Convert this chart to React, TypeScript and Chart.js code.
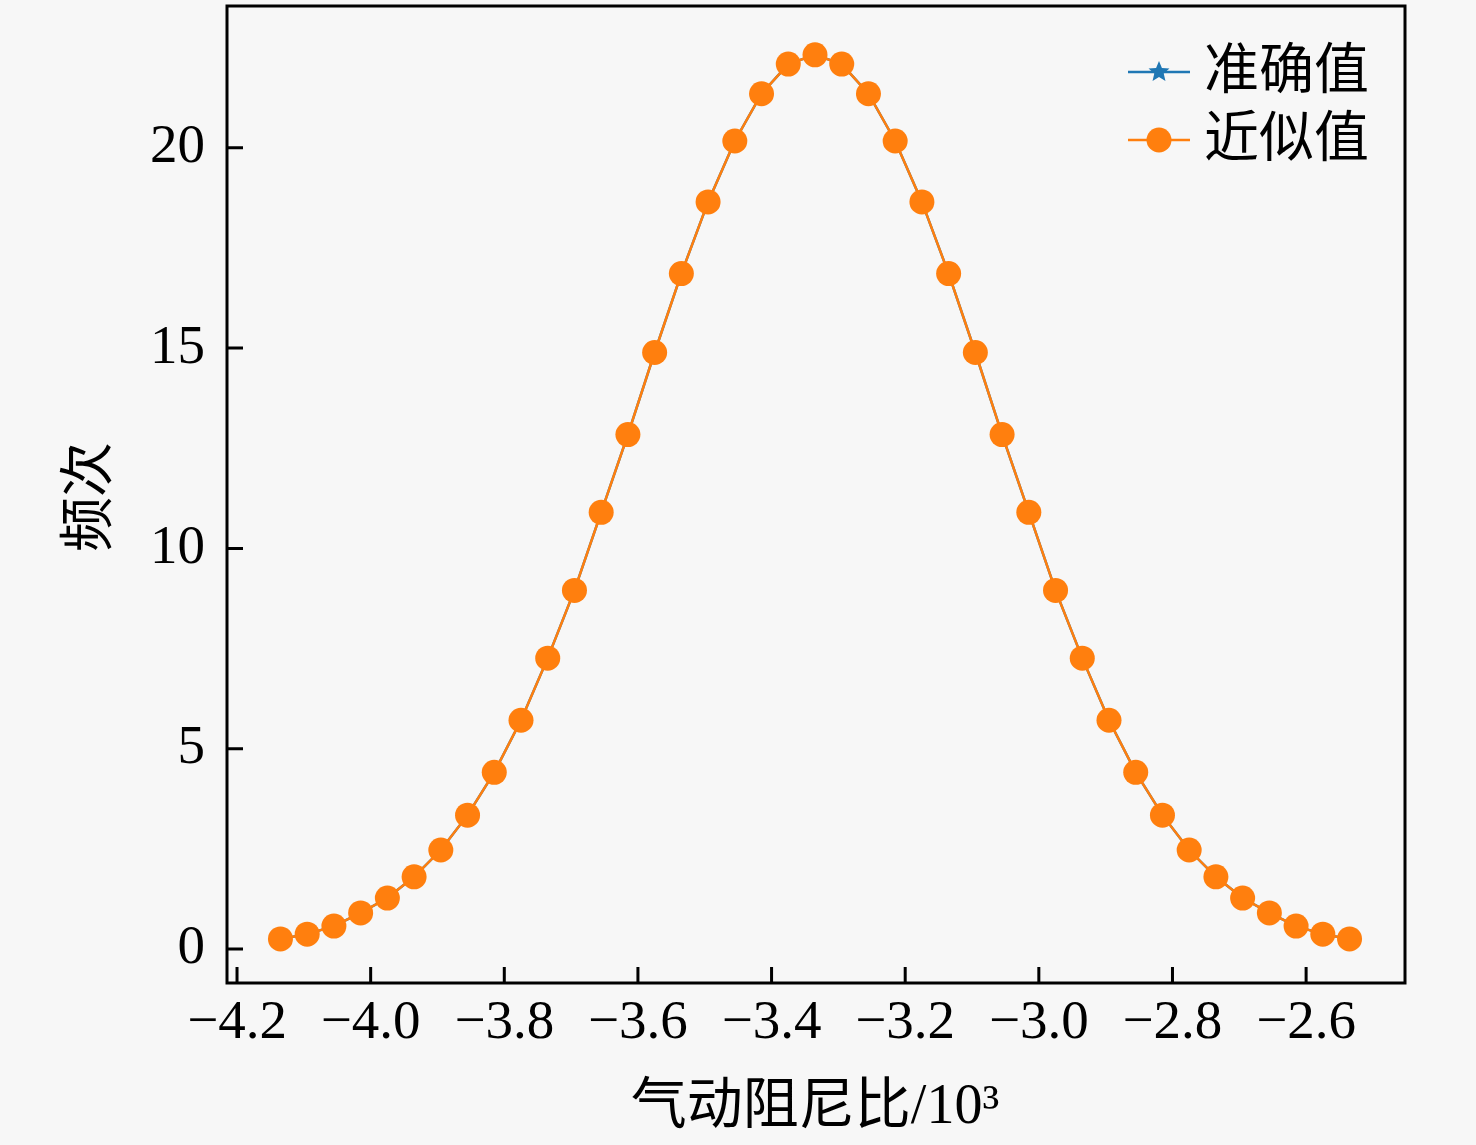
import { useEffect, useRef } from 'react'
import { Chart, registerables } from 'chart.js'

Chart.register(...registerables);

// 气动阻尼比 (x, ×10^3) and 频次 values
const dampingRatio = [
  -4.135, -4.095, -4.055, -4.015, -3.975, -3.935, -3.895, -3.855, -3.815, -3.775,
  -3.735, -3.695, -3.655, -3.615, -3.575, -3.535, -3.495, -3.455, -3.415, -3.375,
  -3.335, -3.295, -3.255, -3.215, -3.175, -3.135, -3.095, -3.055, -3.015, -2.975,
  -2.935, -2.895, -2.855, -2.815, -2.775, -2.735, -2.695, -2.655, -2.615, -2.575,
  -2.535,
];
const exactFreq = [
  0.25, 0.37, 0.57, 0.90, 1.27, 1.80, 2.47, 3.34, 4.41, 5.71,
  7.26, 8.95, 10.90, 12.84, 14.89, 16.86, 18.65, 20.17, 21.35, 22.09,
  22.32, 22.09, 21.35, 20.17, 18.65, 16.86, 14.89, 12.84, 10.90, 8.95,
  7.26, 5.71, 4.41, 3.34, 2.47, 1.80, 1.27, 0.90, 0.57, 0.37,
  0.25,
];
const approxFreq = [
  0.25, 0.37, 0.57, 0.90, 1.27, 1.80, 2.47, 3.34, 4.41, 5.71,
  7.26, 8.95, 10.90, 12.84, 14.89, 16.86, 18.65, 20.17, 21.35, 22.09,
  22.32, 22.09, 21.35, 20.17, 18.65, 16.86, 14.89, 12.84, 10.90, 8.95,
  7.26, 5.71, 4.41, 3.34, 2.47, 1.80, 1.27, 0.90, 0.57, 0.37,
  0.25,
];
const xTicks = [-4.2, -4.0, -3.8, -3.6, -3.4, -3.2, -3.0, -2.8, -2.6];
const yTicks = [0, 5, 10, 15, 20];
const seriesNames = ['准确值', '近似值'];

const BLUE = '#1f77b4';
const ORANGE = '#ff7f0e';
const FONT = '"Liberation Serif", "Times New Roman", "Noto Sans CJK SC", serif';

function drawStar(ctx: CanvasRenderingContext2D, cx: number, cy: number, r: number) {
  ctx.beginPath();
  for (let i = 0; i < 10; i++) {
    const rad = i % 2 === 0 ? r : r * 0.45;
    const a = -Math.PI / 2 + (i * Math.PI) / 5;
    const px = cx + rad * Math.cos(a);
    const py = cy + rad * Math.sin(a);
    if (i === 0) ctx.moveTo(px, py); else ctx.lineTo(px, py);
  }
  ctx.closePath();
  ctx.fill();
}

// frame, inward ticks, axis titles and the legend
const decorPlugin = {
  id: 'decor',
  beforeDraw(chart: Chart) {
    const { ctx, width, height } = chart;
    ctx.save();
    ctx.fillStyle = '#f7f7f7';
    ctx.fillRect(0, 0, width, height);
    ctx.restore();
  },
  afterDraw(chart: Chart) {
    const { ctx, chartArea: a } = chart;
    const xs = chart.scales.x;
    const ys = chart.scales.y;
    ctx.save();
    ctx.strokeStyle = '#000';
    ctx.lineWidth = 3;
    ctx.strokeRect(a.left, a.top, a.right - a.left, a.bottom - a.top);

    ctx.beginPath();
    xTicks.forEach(t => {
      const px = xs.getPixelForValue(t);
      ctx.moveTo(px, a.bottom);
      ctx.lineTo(px, a.bottom - 16);
    });
    yTicks.forEach(t => {
      const py = ys.getPixelForValue(t);
      ctx.moveTo(a.left, py);
      ctx.lineTo(a.left + 16, py);
    });
    ctx.stroke();

    // axis titles
    ctx.fillStyle = '#000';
    ctx.font = `56px ${FONT}`;
    ctx.textAlign = 'center';
    ctx.textBaseline = 'middle';
    ctx.fillText('气动阻尼比/10³', 815, 1108);
    ctx.save();
    ctx.translate(92, 497);
    ctx.rotate(-Math.PI / 2);
    ctx.font = `55px ${FONT}`;
    ctx.fillText('频次', 0, 0);
    ctx.restore();

    // legend
    const rows = [
      { y: 72, color: BLUE, star: true },
      { y: 140, color: ORANGE, star: false },
    ];
    rows.forEach((r, i) => {
      ctx.strokeStyle = r.color;
      ctx.lineWidth = 2.5;
      ctx.beginPath();
      ctx.moveTo(1128, r.y);
      ctx.lineTo(1190, r.y);
      ctx.stroke();
      ctx.fillStyle = r.color;
      if (r.star) {
        drawStar(ctx, 1159, r.y, 11);
      } else {
        ctx.beginPath();
        ctx.arc(1159, r.y, 12.5, 0, Math.PI * 2);
        ctx.fill();
      }
      ctx.fillStyle = '#000';
      ctx.font = `55px ${FONT}`;
      ctx.textAlign = 'left';
      ctx.textBaseline = 'middle';
      ctx.fillText(seriesNames[i], 1204, r.y + 2);
    });
    ctx.restore();
  },
};

const fmt = (v: number, digits: number) =>
  (v < 0 ? '\u2212' : '') + Math.abs(v).toFixed(digits);

export default function App() {
  const canvasRef = useRef<HTMLCanvasElement>(null);
  const chartRef = useRef<Chart | null>(null);

  useEffect(() => {
    document.body.style.margin = '0';
    document.body.style.background = '#f7f7f7';
    if (!canvasRef.current) return;
    chartRef.current?.destroy();
    chartRef.current = new Chart(canvasRef.current, {
      type: 'line',
      data: {
        datasets: [
          {
            label: seriesNames[0],
            data: dampingRatio.map((x, i) => ({ x, y: exactFreq[i] })),
            borderColor: BLUE,
            backgroundColor: BLUE,
            borderWidth: 2.5,
            pointStyle: 'star',
            pointRadius: 9,
            pointBorderWidth: 3,
            pointBorderColor: BLUE,
            order: 2,
          },
          {
            label: seriesNames[1],
            data: dampingRatio.map((x, i) => ({ x, y: approxFreq[i] })),
            borderColor: ORANGE,
            backgroundColor: ORANGE,
            borderWidth: 2.5,
            pointStyle: 'circle',
            pointRadius: 12.5,
            pointBorderWidth: 0,
            order: 1,
          },
        ],
      },
      options: {
        responsive: false,
        animation: false,
        devicePixelRatio: 1,
        layout: { autoPadding: false, padding: { top: 6, right: 71, left: 0, bottom: 0 } },
        plugins: {
          legend: { display: false },
          tooltip: { enabled: false },
        },
        scales: {
          x: {
            type: 'linear',
            min: -4.215,
            max: -2.452,
            afterBuildTicks: (s: any) => { s.ticks = xTicks.map(v => ({ value: v })); },
            afterFit: (s: any) => {
              s.height = 162;
              s.paddingLeft = 0;
              s.paddingRight = 0;
            },
            grid: { display: false },
            border: { display: false },
            ticks: {
              color: '#000',
              padding: 0,
              maxRotation: 0,
              autoSkip: false,
              font: { family: FONT, size: 55 },
              callback: (v: any) => fmt(Number(v), 1),
            },
          },
          y: {
            type: 'linear',
            min: -0.85,
            max: 23.54,
            afterBuildTicks: (s: any) => { s.ticks = yTicks.map(v => ({ value: v })); },
            afterFit: (s: any) => {
              s.width = 227;
              s.paddingTop = 0;
              s.paddingBottom = 0;
            },
            grid: { display: false },
            border: { display: false },
            ticks: {
              color: '#000',
              padding: 14,
              autoSkip: false,
              font: { family: FONT, size: 55 },
              callback: (v: any) => fmt(Number(v), 0),
            },
          },
        },
      },
      plugins: [decorPlugin],
    });
    return () => {
      chartRef.current?.destroy();
      chartRef.current = null;
    };
  }, []);

  return (
    <div style={{ width: 1476, height: 1145 }}>
      <canvas ref={canvasRef} width={1476} height={1145} style={{ display: 'block' }} />
    </div>
  );
}
